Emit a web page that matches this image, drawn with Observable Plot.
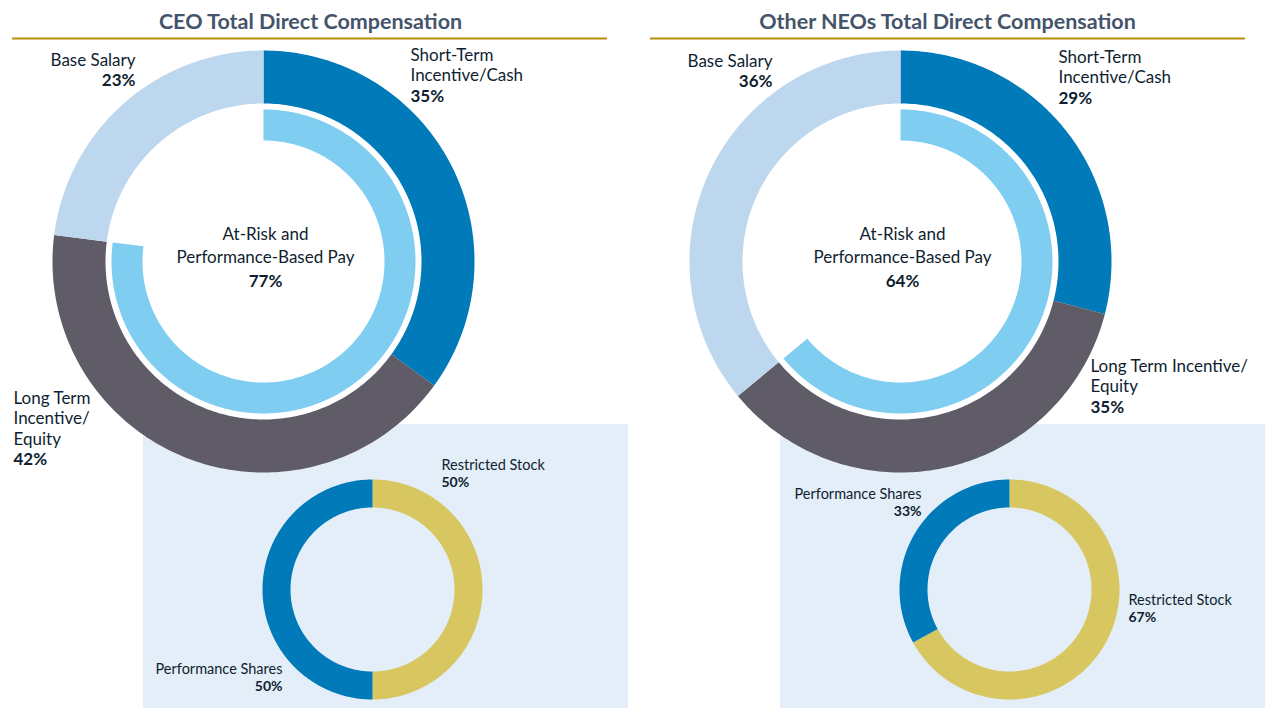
<!DOCTYPE html>
<html><head><meta charset="utf-8">
<script src="https://cdn.jsdelivr.net/npm/d3@7"></script>
<script src="https://cdn.jsdelivr.net/npm/@observablehq/plot@0.6"></script>
<style>body{margin:0;background:#fff}#chart svg{display:block}</style>
</head><body><div id="chart"></div>
<script>
// ---------------- data ----------------
const panels = ["CEO", "Other NEOs"];
const panelTitles = ["CEO Total Direct Compensation", "Other NEOs Total Direct Compensation"];
const payCategories = ["Short-Term Incentive/Cash", "Long Term Incentive/Equity", "Base Salary"];
const ceoPay = [35, 42, 23];
const neoPay = [29, 35, 36];
const atRiskLabel = "At-Risk and Performance-Based Pay";
const atRiskPay = [77, 64];
const equityCategories = ["Restricted Stock", "Performance Shares"];
const ceoEquity = [50, 50];
const neoEquity = [67, 33];

// ---------------- styles / layout ----------------
const payColors = ["#007AB8", "#5F5B67", "#BDD7EE"];
const atRiskColor = "#7FCDF1";
const equityColors = ["#D8C661", "#007AB8"];
const boxColor = "#E3EEF8";
const textColor = "#0F1E30";
const titleColor = "#44546A";
const ruleColor = "#B8900C";
const FONT = "Lato, 'Open Sans', sans-serif";

const layout = [
  { cx: 263, cy: 261, box: [143, 424, 628, 708], sub: [372, 589], titleX: 310, rule: [12, 607],
    payLabels: [
      {x: 410, y: 55, anchor: "start", groups: [1, 2]},
      {x: 13, y: 398, anchor: "start", groups: [2, 1, 1]},
      {x: 135, y: 60, anchor: "end", groups: [2]}
    ],
    center: {x: 265, y: 234, groups: [2, 2]},
    eqLabels: [
      {x: 441, y: 465, anchor: "start"},
      {x: 282, y: 669, anchor: "end"}
    ] },
  { cx: 900, cy: 261, box: [780, 424, 1265, 708], sub: [1009, 589], titleX: 947, rule: [650, 1245],
    payLabels: [
      {x: 1058, y: 57, anchor: "start", groups: [1, 2]},
      {x: 1090, y: 366, anchor: "start", groups: [3, 1]},
      {x: 772, y: 61, anchor: "end", groups: [2]}
    ],
    center: {x: 902, y: 234, groups: [2, 2]},
    eqLabels: [
      {x: 1128, y: 600, anchor: "start"},
      {x: 921, y: 494, anchor: "end"}
    ] }
];
const R_OUT = [158, 211], R_IN = [121, 152], R_SUB = [82, 110];
const LINE = 20.5, LINE_SMALL = 17;

// ---------------- helpers ----------------
function wrap(text, groups) {
  const tokens = text.replace(/\//g, "/ ").split(/\s+/).filter(Boolean);
  const lines = []; let k = 0;
  for (const g of groups) {
    let s = "";
    for (let i = 0; i < g; i++, k++) {
      const t = tokens[k];
      s += (s === "" || s.endsWith("/")) ? t : " " + t;
    }
    lines.push(s);
  }
  return lines;
}
function arcPolygon(key, fill, cx, cy, rIn, rOut, t0, t1) {
  const n = Math.max(2, Math.ceil((t1 - t0) * 360));
  const pts = [];
  for (let i = 0; i <= n; i++) {
    const a = 2 * Math.PI * (t0 + (t1 - t0) * i / n);
    pts.push({key, fill, x: cx + rOut * Math.sin(a), y: cy - rOut * Math.cos(a)});
  }
  for (let i = n; i >= 0; i--) {
    const a = 2 * Math.PI * (t0 + (t1 - t0) * i / n);
    pts.push({key, fill, x: cx + rIn * Math.sin(a), y: cy - rIn * Math.cos(a)});
  }
  return pts;
}
function ring(prefix, values, colors, cx, cy, r) {
  const total = d3.sum(values);
  let acc = 0; const out = [];
  values.forEach((v, i) => {
    const t0 = acc / total; acc += v; const t1 = acc / total;
    out.push(...arcPolygon(prefix + i, colors[i], cx, cy, r[0], r[1], t0, t1));
  });
  return out;
}

// ---------------- build mark data ----------------
const payData = [ceoPay, neoPay];
const eqData = [ceoEquity, neoEquity];
const boxes = [], arcs = [], regular = [], bold = [], smallReg = [], smallBold = [], titles = [], rules = [];

panels.forEach((p, pi) => {
  const L = layout[pi];
  boxes.push({x1: L.box[0], y1: L.box[1], x2: L.box[2], y2: L.box[3]});
  titles.push({text: panelTitles[pi], x: L.titleX, y: 22});
  rules.push({x1: L.rule[0], x2: L.rule[1], y: 38});
  arcs.push(...ring(p + "-pay-", payData[pi], payColors, L.cx, L.cy, R_OUT));
  arcs.push(...arcPolygon(p + "-risk", atRiskColor, L.cx, L.cy, R_IN[0], R_IN[1], 0, atRiskPay[pi] / 100));
  arcs.push(...ring(p + "-eq-", eqData[pi], equityColors, L.sub[0], L.sub[1], R_SUB));
  payCategories.forEach((c, ci) => {
    const s = L.payLabels[ci];
    const lines = wrap(c, s.groups);
    lines.forEach((t, li) => regular.push({text: t, x: s.x, y: s.y + li * LINE, anchor: s.anchor}));
    bold.push({text: payData[pi][ci] + "%", x: s.x, y: s.y + lines.length * LINE, anchor: s.anchor});
  });
  const cl = wrap(atRiskLabel, L.center.groups);
  cl.forEach((t, li) => regular.push({text: t, x: L.center.x, y: L.center.y + li * 23, anchor: "middle"}));
  bold.push({text: atRiskPay[pi] + "%", x: L.center.x, y: L.center.y + cl.length * 23.5, anchor: "middle"});
  equityCategories.forEach((c, ci) => {
    const s = L.eqLabels[ci];
    smallReg.push({text: c, x: s.x, y: s.y, anchor: s.anchor});
    smallBold.push({text: eqData[pi][ci] + "%", x: s.x, y: s.y + LINE_SMALL, anchor: s.anchor});
  });
});

const textMarks = (data, size, weight, fill) => ["start", "middle", "end"].map(a =>
  Plot.text(data.filter(d => d.anchor === a), {x: "x", y: "y", text: "text", textAnchor: a,
    fontSize: size, fontWeight: weight, fill, fontFamily: FONT}));

const chart = Plot.plot({
  width: 1276, height: 716, margin: 0,
  x: {type: "linear", domain: [0, 1276], range: [0, 1276], axis: null},
  y: {type: "linear", domain: [0, 716], range: [0, 716], axis: null},
  color: {type: "identity"},
  style: {background: "#fff", fontFamily: FONT},
  marks: [
    Plot.rect(boxes, {x1: "x1", y1: "y1", x2: "x2", y2: "y2", fill: boxColor}),
    Plot.line(arcs, {x: "x", y: "y", z: "key", fill: "fill", stroke: "none", curve: "linear-closed"}),
    Plot.ruleY(rules, {y: "y", x1: "x1", x2: "x2", stroke: ruleColor, strokeWidth: 2}),
    Plot.text(titles, {x: "x", y: "y", text: "text", fontSize: 21.5, fontWeight: "bold", fill: titleColor, fontFamily: FONT}),
    ...textMarks(regular, 17, "normal", textColor),
    ...textMarks(bold, 17, "bold", textColor),
    ...textMarks(smallReg, 14.5, "normal", textColor),
    ...textMarks(smallBold, 14, "bold", textColor)
  ]
});
document.getElementById("chart").appendChild(chart);
</script>
</body></html>
